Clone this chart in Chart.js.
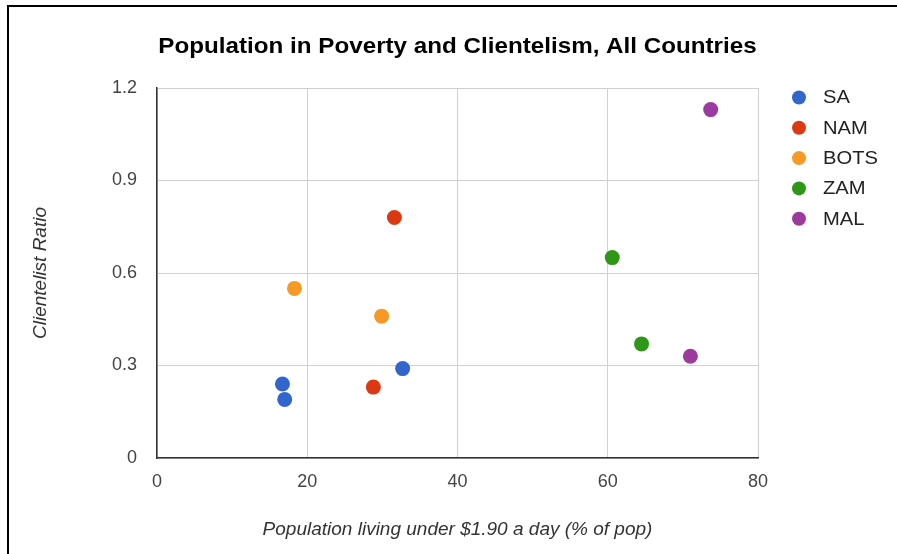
<!DOCTYPE html>
<html>
<head>
<meta charset="utf-8">
<script src="https://cdn.jsdelivr.net/npm/chart.js@4.4.1/dist/chart.umd.min.js"></script>
<style>
    body { margin: 0; background: #fff; }
    #wrap { position: relative; width: 897px; height: 554px; overflow: hidden; }
    #frame {
        position: absolute; left: 7px; top: 5px; width: 900px; height: 600px;
        border-left: 2px solid #000; border-top: 2px solid #000; pointer-events: none;
    }
</style>
</head>
<body>
<div id="wrap">
    <canvas id="chart" width="897" height="554"></canvas>
    <div id="frame"></div>
</div>
<script>
// Chart data
const seriesNames = ['SA', 'NAM', 'BOTS', 'ZAM', 'MAL'];
const seriesColors = ['#3366cc', '#dc3912', '#f79a25', '#2f9618', '#9d3a9d'];

const saPoints = [{ x: 16.7, y: 0.24 }, { x: 17.0, y: 0.19 }, { x: 32.7, y: 0.29 }];
const namPoints = [{ x: 31.6, y: 0.78 }, { x: 28.8, y: 0.23 }];
const botsPoints = [{ x: 18.3, y: 0.55 }, { x: 29.9, y: 0.46 }];
const zamPoints = [{ x: 60.6, y: 0.65 }, { x: 64.5, y: 0.37 }];
const malPoints = [{ x: 73.7, y: 1.13 }, { x: 71.0, y: 0.33 }];

const xTicks = [0, 20, 40, 60, 80];
const yTicks = [0, 0.3, 0.6, 0.9, 1.2];

const chartTitle = 'Population in Poverty and Clientelism, All Countries';
const xTitle = 'Population living under $1.90 a day (% of pop)';
const yTitle = 'Clientelist Ratio';

const allPoints = [saPoints, namPoints, botsPoints, zamPoints, malPoints];
const fontFamily = '"Liberation Sans", Arial, sans-serif';

// Title and legend drawn on top of the chart
const extrasPlugin = {
    id: 'extras',
    afterDraw(chart) {
        const ctx = chart.ctx;
        const area = chart.chartArea;
        const cx = (area.left + area.right) / 2;

        ctx.save();
        ctx.fillStyle = '#000';
        ctx.font = 'bold 22px ' + fontFamily;
        ctx.textAlign = 'center';
        ctx.textBaseline = 'alphabetic';
        ctx.translate(cx, 52.5);
        ctx.scale(1.1, 1);
        ctx.fillText(chartTitle, 0, 0);
        ctx.restore();

        ctx.save();
        ctx.font = '18px ' + fontFamily;
        ctx.textAlign = 'left';
        ctx.textBaseline = 'middle';
        chart.data.datasets.forEach((ds, i) => {
            const y = 97.5 + i * 30.3;
            ctx.beginPath();
            ctx.arc(799, y, 7, 0, Math.PI * 2);
            ctx.fillStyle = ds.backgroundColor;
            ctx.fill();
            ctx.save();
            ctx.translate(823, y + 1);
            ctx.scale(1.12, 1);
            ctx.fillStyle = '#222';
            ctx.fillText(ds.label, 0, 0);
            ctx.restore();
        });
        ctx.restore();
    }
};

const ctx = document.getElementById('chart');

new Chart(ctx, {
    type: 'scatter',
    data: {
        datasets: seriesNames.map((name, i) => ({
            label: name,
            data: allPoints[i],
            backgroundColor: seriesColors[i],
            borderColor: seriesColors[i],
            borderWidth: 0,
            pointRadius: 7.5,
            pointHoverRadius: 7.5
        }))
    },
    options: {
        responsive: false,
        animation: false,
        devicePixelRatio: 1,
        layout: { padding: { left: 0, top: 88, right: 139, bottom: 0 } },
        plugins: {
            legend: { display: false },
            title: { display: false },
            tooltip: { enabled: false }
        },
        scales: {
            x: {
                type: 'linear',
                min: 0,
                max: 80,
                afterBuildTicks: (scale) => { scale.ticks = xTicks.map(v => ({ value: v })); },
                afterFit: (scale) => { scale.height = 96; },
                grid: { color: '#d0d0d0', lineWidth: 1, drawTicks: false },
                border: { color: '#333', width: 1.5 },
                ticks: {
                    color: '#444',
                    padding: 13,
                    font: { family: fontFamily, size: 18 }
                },
                title: {
                    display: true,
                    text: xTitle,
                    color: '#333',
                    padding: { top: 0, bottom: 13 },
                    font: { family: fontFamily, size: 19, style: 'italic' }
                }
            },
            y: {
                type: 'linear',
                min: 0,
                max: 1.2,
                afterBuildTicks: (scale) => { scale.ticks = yTicks.map(v => ({ value: v })); },
                afterFit: (scale) => { scale.width = 157; },
                grid: { color: '#d0d0d0', lineWidth: 1, drawTicks: false },
                border: { color: '#333', width: 1.5 },
                ticks: {
                    color: '#444',
                    padding: 20,
                    font: { family: fontFamily, size: 18 }
                },
                title: {
                    display: true,
                    text: yTitle,
                    color: '#333',
                    padding: { top: 29, bottom: 0 },
                    font: { family: fontFamily, size: 19, style: 'italic' }
                }
            }
        }
    },
    plugins: [extrasPlugin]
});
</script>
</body>
</html>
